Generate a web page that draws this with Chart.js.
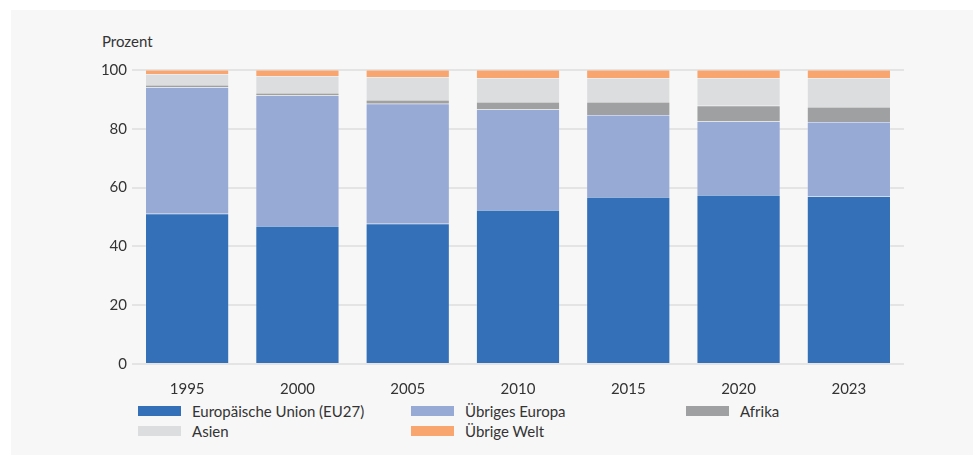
<!DOCTYPE html>
<html>
<head>
<meta charset="utf-8">
<script src="https://cdn.jsdelivr.net/npm/chart.js@4/dist/chart.umd.min.js"></script>
<style>
  body { margin: 0; background: #fff; font-family: Lato, sans-serif; color: #333; }
  #card { position: absolute; left: 11px; top: 10px; width: 962px; height: 445px; background: #f7f7f7; }
  #wrap { position: absolute; left: 0; top: 0; width: 973px; height: 400px; }
  #unit { position: absolute; left: 102px; top: 32px; font-size: 15px; }
  .leg { position: absolute; font-size: 15px; line-height: 20px; }
  .leg i { position: absolute; left: -54px; top: 5px; width: 43px; height: 10px; }
</style>
</head>
<body>
<div id="card"></div>
<div id="unit">Prozent</div>
<div id="wrap"><canvas id="chart" width="973" height="400"></canvas></div>
<div id="legend"></div>
<script>
const years = ['1995', '2000', '2005', '2010', '2015', '2020', '2023']

const eu = [51.1, 46.9, 47.7, 52.4, 56.8, 57.5, 57.1]
const uebrigesEuropa = [43.0, 44.4, 40.8, 34.2, 27.9, 25.0, 25.2]
const afrika = [0.8, 0.9, 1.3, 2.5, 4.4, 5.3, 5.1]
const asien = [3.7, 5.8, 7.8, 8.2, 8.2, 9.5, 9.9]
const uebrigeWelt = [1.4, 2.0, 2.4, 2.7, 2.7, 2.7, 2.7]

const series = [
  { label: 'Europäische Union (EU27)', data: eu, color: '#3470b8' },
  { label: 'Übriges Europa', data: uebrigesEuropa, color: '#97a9d5' },
  { label: 'Afrika', data: afrika, color: '#9fa0a2' },
  { label: 'Asien', data: asien, color: '#dcdddf' },
  { label: 'Übrige Welt', data: uebrigeWelt, color: '#f9a56f' },
]

const tickFont = { family: 'Lato', size: 15 }

new Chart(document.getElementById('chart').getContext('2d'), {
  type: 'bar',
  data: {
    labels: years,
    datasets: series.map(s => ({
      label: s.label,
      data: s.data,
      backgroundColor: s.color,
      borderColor: 'rgba(255,255,255,0.35)',
      borderWidth: 0.5,
      barPercentage: 0.755,
      categoryPercentage: 1,
    }))
  },
  options: {
    responsive: false,
    animation: false,
    layout: { padding: { left: 0, top: 70, right: 69, bottom: 0 } },
    plugins: { legend: { display: false }, tooltip: { enabled: false } },
    scales: {
      x: {
        stacked: true,
        grid: { display: false },
        border: { display: false },
        ticks: { color: '#333', font: tickFont, padding: 8 },
        afterFit: scale => { scale.height = 36 },
      },
      y: {
        stacked: true,
        min: 0,
        max: 100,
        grid: { color: '#e4e4e4', lineWidth: 2, drawTicks: false },
        border: { display: false },
        ticks: { stepSize: 20, color: '#333', font: tickFont, padding: 5 },
        afterFit: scale => { scale.width = 132 },
      }
    }
  }
})

// legend in three columns
const legendPos = [
  [192, 401], [465, 401], [740, 401],
  [192, 421], [465, 421]
]
const legend = document.getElementById('legend')
series.forEach((s, i) => {
  const el = document.createElement('div')
  el.className = 'leg'
  el.style.left = legendPos[i][0] + 'px'
  el.style.top = legendPos[i][1] + 'px'
  el.innerHTML = '<i style="background:' + s.color + '"></i>' + s.label
  legend.appendChild(el)
})
</script>
</body>
</html>
